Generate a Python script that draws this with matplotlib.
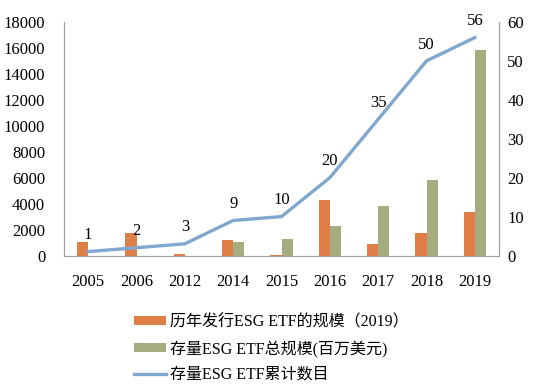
import matplotlib
matplotlib.use("Agg")
import matplotlib.pyplot as plt
import numpy as np

years = ["2005", "2006", "2012", "2014", "2015", "2016", "2017", "2018", "2019"]
issued = [1060, 1710, 120, 1170, 40, 4260, 860, 1740, 3380]
total_aum = [0, 0, 0, 1040, 1250, 2300, 3840, 5800, 15820]
etf_count = [1, 2, 3, 9, 10, 20, 35, 50, 56]

ORANGE = "#E07E47"
GREEN = "#A4AC80"
BLUE = "#80A8CE"
SPINE = "#A0A0A0"

plt.rcParams["font.family"] = ["Liberation Serif", "Noto Sans CJK SC"]

fig = plt.figure(figsize=(5.5, 3.91), dpi=100)
ax = fig.add_axes([64 / 550, 1 - 255.5 / 391, 435 / 550, 233.5 / 391])
ax2 = ax.twinx()

x = np.arange(len(years))
w = 0.23
b1 = ax.bar(x - w / 2, issued, w, color=ORANGE, label="历年发行ESG ETF的规模（2019）")
b2 = ax.bar(x + w / 2, total_aum, w, color=GREEN, label="存量ESG ETF总规模(百万美元)")
ln, = ax2.plot(x, etf_count, color=BLUE, lw=2.4, label="存量ESG ETF累计数目", zorder=3)

# count labels sit just above each point of the line
for xi, v in zip(x, etf_count):
    ax2.annotate(str(v), (xi, v), textcoords="offset points", xytext=(0, 6),
                 ha="center", va="bottom", fontsize=12)

ax.set_xlim(-0.5, len(years) - 0.5)
ax.set_ylim(0, 18000)
ax.set_yticks(range(0, 18001, 2000))
ax2.set_ylim(0, 60)
ax2.set_yticks(range(0, 61, 10))
ax.set_xticks(x)
ax.set_xticklabels(years)

for a in (ax, ax2):
    a.spines["top"].set_visible(False)
    for s in ("left", "right", "bottom"):
        a.spines[s].set_color(SPINE)
    a.tick_params(length=0, labelsize=12)
ax.tick_params(axis="y", pad=13.5)
ax.tick_params(axis="x", pad=13)
ax2.tick_params(axis="y", pad=6)

fig.legend([b1, b2, ln], [b1.get_label(), b2.get_label(), ln.get_label()],
           loc="center", bbox_to_anchor=(271 / 550, 1 - 348.5 / 391),
           frameon=False, fontsize=11.5, handlelength=2.0, handleheight=0.55,
           labelspacing=0.62, handletextpad=0.25)

fig.savefig("out.png", dpi=100)
